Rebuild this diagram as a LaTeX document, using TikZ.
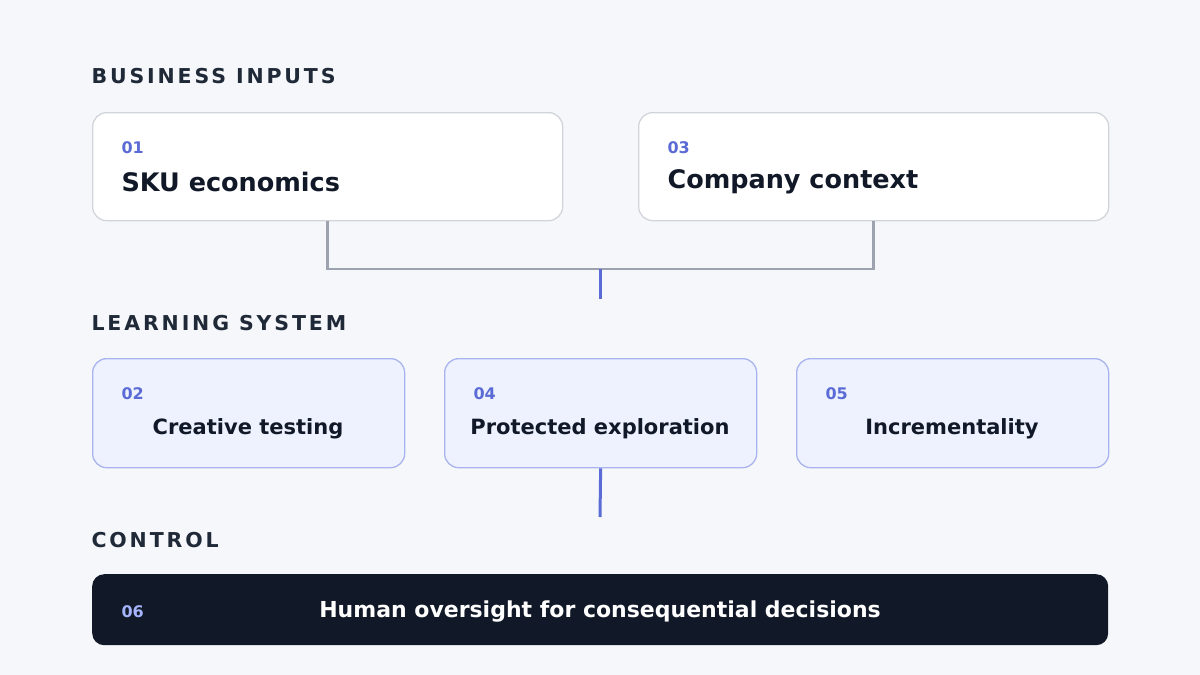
\documentclass[tikz,border=0pt]{standalone}
\usepackage{fontspec}
\setmainfont{DejaVu Sans}
\newfontfamily\spacedfont[LetterSpace=14]{DejaVu Sans}
\usetikzlibrary{positioning}
\definecolor{bgcol}{HTML}{F5F7FA}
\definecolor{inkcol}{HTML}{1F2937}
\definecolor{titlecol}{HTML}{111827}
\definecolor{numcol}{HTML}{5B6BD5}
\definecolor{edgecol}{HTML}{D1D5DB}
\definecolor{linkcol}{HTML}{9CA3AF}
\definecolor{softfill}{HTML}{EEF2FF}
\definecolor{softedge}{HTML}{A9B3EE}
\definecolor{darknum}{HTML}{A5B4FC}
\begin{document}
\begin{tikzpicture}[x=1pt,y=-1pt,
  section/.style={anchor=west,text=inkcol,font=\spacedfont\bfseries\fontsize{20.5}{24}\selectfont},
  input box/.style={draw=edgecol,line width=1.3pt,fill=white,rounded corners=14pt,anchor=north west,minimum width=470pt,minimum height=108pt},
  learn box/.style={draw=softedge,line width=1.3pt,fill=softfill,rounded corners=14pt,anchor=north west,minimum width=312pt,minimum height=109pt},
  num/.style={anchor=west,text=numcol,font=\bfseries\fontsize{16}{18}\selectfont},
  big label/.style={anchor=west,text=titlecol,font=\bfseries\fontsize{25.5}{30}\selectfont},
  mid label/.style={text=titlecol,font=\bfseries\fontsize{21}{26}\selectfont},
  link/.style={draw=linkcol,line width=2.5pt},
  accent/.style={draw=numcol,line width=3pt}]

\fill[bgcol] (0,0) rectangle (1200,675);

% business inputs
\node[section] (secA) at (88,76) {BUSINESS INPUTS};
\node[input box] (sku) at (92,112) {};
\node[input box] (ctx) at (638,112) {};
\node[num] (n1) at (118,148) {01};
\node[big label] (t1) at (118,182) {SKU economics};
\node[num] (n3) at (664,148) {03};
\node[big label] (t3) at (664,182) {Company context};

\coordinate (join) at (600,269);
\coordinate (joinend) at (600,299);
\draw[link] (sku.south) |- (join) -| (ctx.south);
\draw[accent] (join) -- (joinend);

% learning system
\node[section] (secB) at (88,323) {LEARNING SYSTEM};
\node[learn box] (cre) at (92,358) {};
\node[learn box] (exp) at (444,358) {};
\node[learn box] (inc) at (796,358) {};
\node[num] (n2) at (118,394) {02};
\node[num] (n4) at (470,394) {04};
\node[num] (n5) at (822,394) {05};
\node[mid label] (t2) at (248,429) {Creative testing};
\node[mid label] (t4) at (600,429) {Protected exploration};
\node[mid label] (t5) at (952,429) {Incrementality};

\coordinate (ctlend) at (600,517);
\draw[accent] (exp.south) -- (ctlend);

% control
\node[section] (secC) at (88,540) {CONTROL};
\node[fill=titlecol,rounded corners=12pt,anchor=north west,minimum width=1016pt,minimum height=71pt] (ctl) at (92,574) {};
\node[num,text=darknum] (n6) at (118,612) {06};
\node[mid label,text=white,font=\bfseries\fontsize{22}{26}\selectfont] (t6) at (600,612) {Human oversight for consequential decisions};
\end{tikzpicture}
\end{document}
